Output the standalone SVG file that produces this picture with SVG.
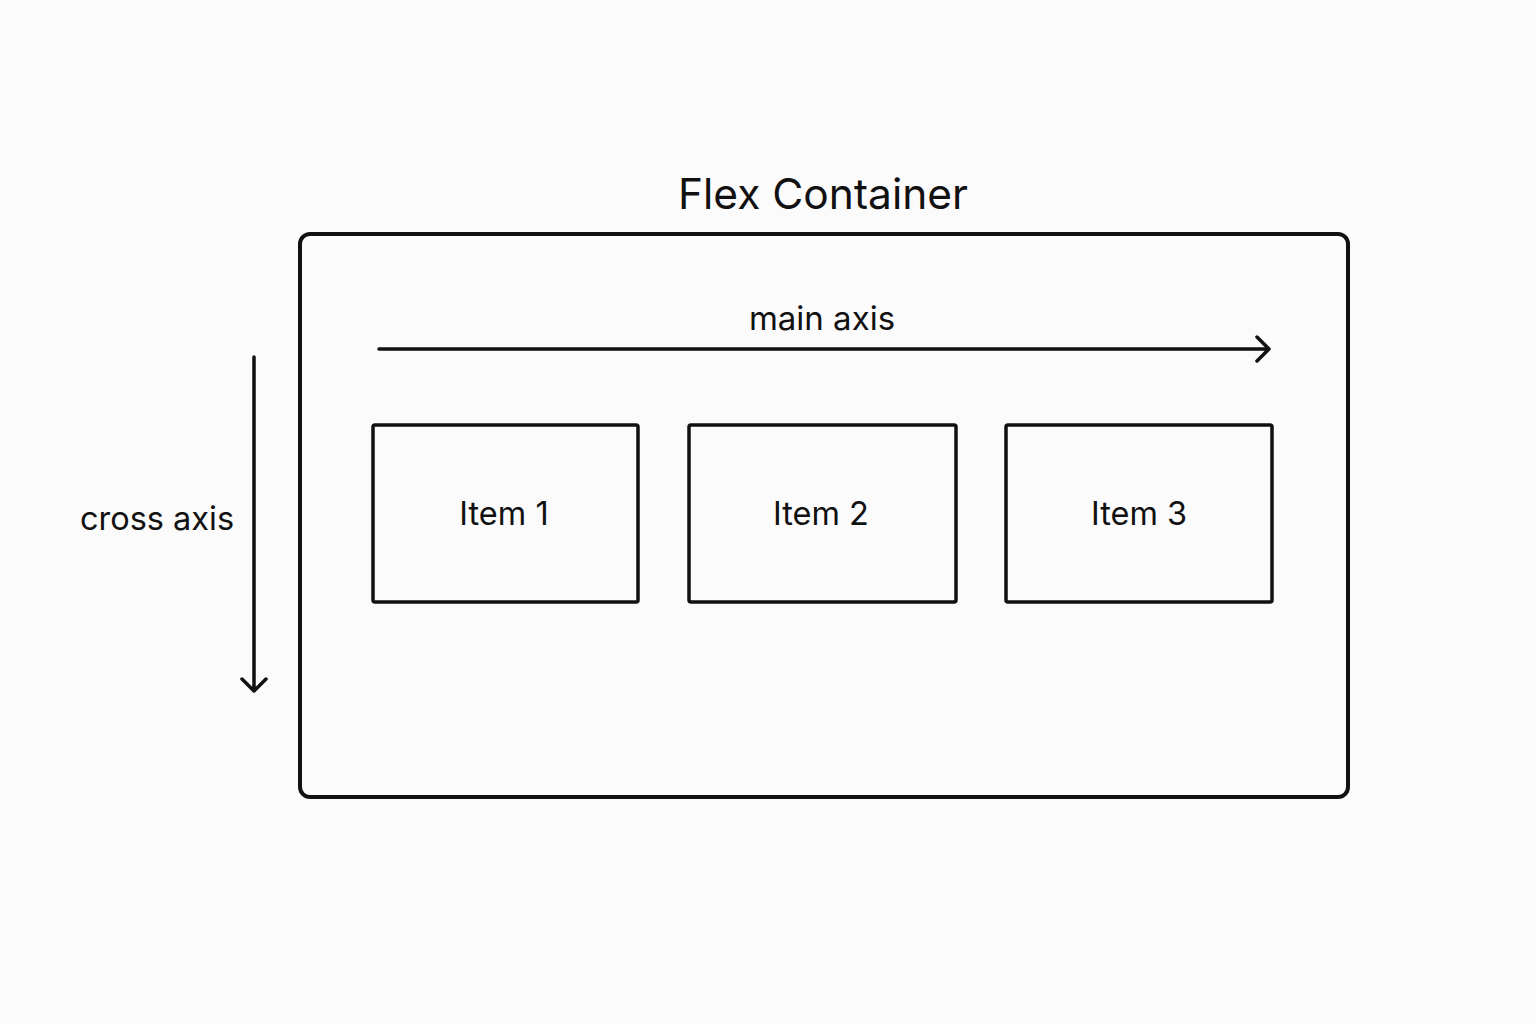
<svg xmlns="http://www.w3.org/2000/svg" width="1536" height="1024" viewBox="0 0 1536 1024">
<style>
.box{fill:none;stroke:#111;stroke-width:3.5;stroke-linejoin:round}
.ln{fill:none;stroke:#111;stroke-width:3.5;stroke-linecap:round;stroke-linejoin:round}
text{font-family:Inter,"Noto Sans","Liberation Sans",sans-serif;fill:#111;text-anchor:middle}
.t{font-size:32.5px}
</style>
<rect width="1536" height="1024" fill="#fbfbfb"/>
<g id="container">
<text x="823" y="209" font-size="42.5">Flex Container</text>
<rect class="box" x="300" y="234" width="1048" height="563" rx="10" style="stroke-width:4"/>
</g>
<g id="item1">
<rect class="box" x="373" y="425" width="265" height="177" rx="2"/>
<text class="t" x="504" y="525">Item 1</text>
</g>
<g id="item2">
<rect class="box" x="689" y="425" width="267" height="177" rx="2"/>
<text class="t" x="821" y="525">Item 2</text>
</g>
<g id="item3">
<rect class="box" x="1006" y="425" width="266" height="177" rx="2"/>
<text class="t" x="1139" y="525">Item 3</text>
</g>
<g id="connectors">
<path class="ln" d="M379 349H1269M1257 337L1269 349L1257 361"/>
<text class="t" x="822" y="330" style="font-size:33px">main axis</text>
<path class="ln" d="M254 357V691M242 679L254 691L266 679"/>
<text class="t" x="157" y="530">cross axis</text>
</g>
</svg>
